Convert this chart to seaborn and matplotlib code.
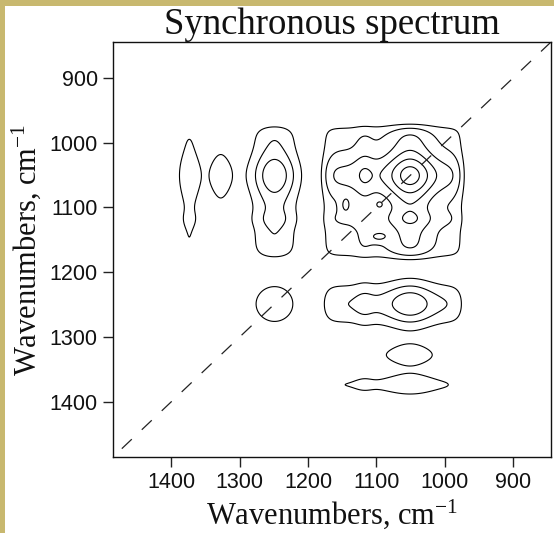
import numpy as np
import matplotlib.pyplot as plt
import seaborn as sns
from matplotlib.patches import Rectangle

# bands of the dynamic spectrum (cm-1)
# shape: height * exp(-0.5 * |(wn - center) / width| ** power)
band_center = [1374, 1328, 1249, 1050, 1076, 1075, 1118]
band_width = [12, 17, 24, 22, 98, 35, 10]
band_height = [0.76, 0.57, 1.52, 1.17, 1.27, 0.15, 0.30]
band_power = [2, 2, 2, 2, 14, 2, 2]

# local corrections (mirrored about the diagonal)
corr_x = [1249, 1374, 1145, 1096]
corr_y = [1249, 1249, 1097, 1096]
corr_wx = [24, 14, 6, 4]
corr_wy = [24, 14, 10, 4]
corr_amp = [-0.45, -0.35, 1.30, 0.90]

wn_start, wn_end = 1485, 845
levels = [1, 2, 3, 4, 5, 6, 7]
x_ticks = [1400, 1300, 1200, 1100, 1000, 900]
y_ticks = [900, 1000, 1100, 1200, 1300, 1400]

wn = np.arange(wn_end, wn_start + 1, 1.0)
spec = np.zeros_like(wn)
for c, w, h, p in zip(band_center, band_width, band_height, band_power):
    spec += h * np.exp(-0.5 * np.abs((wn - c) / w) ** p)
sync = np.outer(spec, spec)

X, Y = np.meshgrid(wn, wn)
for cx, cy, wx, wy, a in zip(corr_x, corr_y, corr_wx, corr_wy, corr_amp):
    sync += a * np.exp(-0.5 * (((X - cx) / wx) ** 2 + ((Y - cy) / wy) ** 2))
    if cx != cy:
        sync += a * np.exp(-0.5 * (((X - cy) / wy) ** 2 + ((Y - cx) / wx) ** 2))

sns.set_style("ticks")
plt.rcParams["mathtext.fontset"] = "custom"
plt.rcParams["mathtext.rm"] = "Liberation Serif"
plt.rcParams["mathtext.it"] = "Liberation Serif:italic"

fig = plt.figure(figsize=(5.54, 5.33), dpi=100, facecolor="#c8b86f")
fig.add_artist(Rectangle((5 / 554, 0), 549 / 554, 527 / 533,
                         transform=fig.transFigure, facecolor="white",
                         edgecolor="none", zorder=-1))
ax = fig.add_axes([113 / 554, 1 - 457 / 533, 438 / 554, 415 / 533])

ax.contour(X, Y, sync, levels=levels, colors="k", linewidths=0.8)
sns.lineplot(x=[wn_start, wn_end], y=[wn_start, wn_end], ax=ax, color="#222222",
             linewidth=0.9, linestyle=(0, (11, 11)))

ax.set_xlim(wn_start, wn_end)
ax.set_ylim(wn_start, wn_end)
ax.set_xticks(x_ticks)
ax.set_yticks(y_ticks)
for lab in ax.get_xticklabels() + ax.get_yticklabels():
    lab.set_family("Liberation Sans")
    lab.set_fontsize(15.5)
    lab.set_color("#111111")
ax.tick_params(length=7, width=1, color="#222222", pad=4)
for s in ax.spines.values():
    s.set_linewidth(1.0)
    s.set_color("#111111")

serif = {"family": "Liberation Serif", "size": 22, "color": "#111111"}
ax.set_xlabel("Wavenumbers, cm$^{-1}$", fontdict=serif, labelpad=3)
ax.set_ylabel("Wavenumbers, cm$^{-1}$", fontdict=serif, labelpad=5)
ax.set_title("Synchronous spectrum", family="Liberation Serif", size=26.5,
             color="#111111", pad=5)

fig.savefig("out.png", dpi=100, facecolor=fig.get_facecolor())
